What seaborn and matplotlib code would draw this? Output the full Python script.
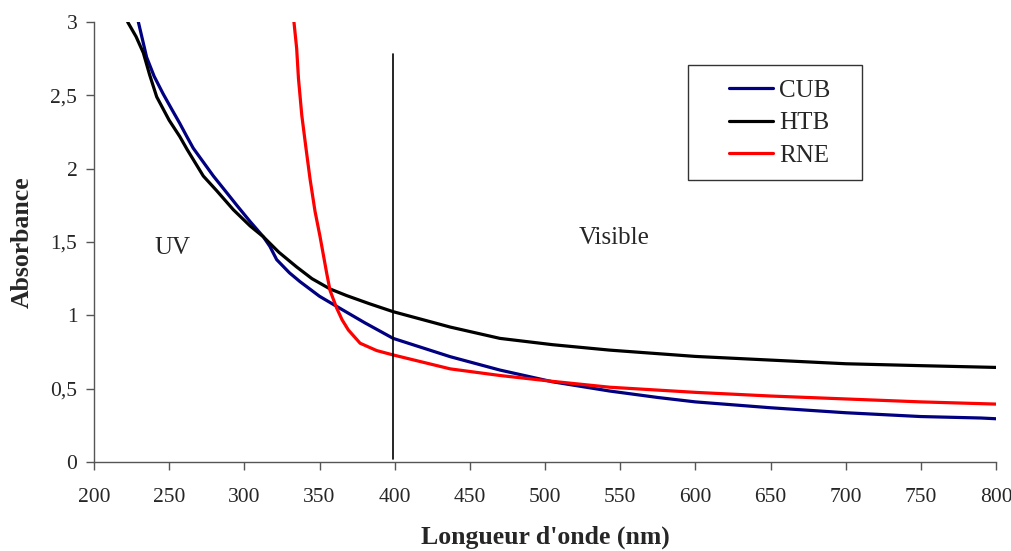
import numpy as np
import pandas as pd
import matplotlib
matplotlib.use("Agg")
import matplotlib.pyplot as plt
from matplotlib.ticker import FuncFormatter
from matplotlib.patches import Rectangle
import seaborn as sns

# Data (wavelength nm, absorbance)
cub_nm = [226, 229.5, 235, 240, 246, 252, 257, 261.7, 266, 279.4, 288, 295, 303.8, 312.6, 317, 321.5, 330, 337, 350, 363.6, 380, 399, 437, 470, 505, 543, 575, 600, 650, 700, 750, 790, 800]
cub_a = [3.3, 3.0, 2.76, 2.63, 2.51, 2.40, 2.31, 2.22, 2.14, 1.95, 1.84, 1.75, 1.64, 1.536, 1.47, 1.38, 1.29, 1.23, 1.13, 1.048, 0.95, 0.843, 0.718, 0.627, 0.547, 0.484, 0.44, 0.41, 0.37, 0.336, 0.31, 0.30, 0.295]

htb_nm = [219, 222.4, 228, 232.8, 237, 241.7, 250, 257, 262, 272.7, 281.6, 292.7, 303.8, 312.6, 323, 334.8, 345, 357, 368, 383, 399, 437, 470, 505, 543, 600, 650, 700, 750, 800]
htb_a = [3.3, 3.0, 2.90, 2.79, 2.64, 2.49, 2.33, 2.22, 2.13, 1.95, 1.85, 1.72, 1.61, 1.536, 1.43, 1.33, 1.25, 1.18, 1.135, 1.08, 1.025, 0.92, 0.843, 0.80, 0.763, 0.72, 0.695, 0.67, 0.657, 0.645]

rne_nm = [332.5, 333, 334.8, 336, 338.2, 341, 343.7, 347, 350.3, 354.8, 357, 361.4, 365, 369.2, 377, 388, 399, 437, 470, 505, 543, 600, 650, 700, 750, 800]
rne_a = [3.2, 3.0, 2.82, 2.615, 2.365, 2.14, 1.93, 1.71, 1.54, 1.286, 1.17, 1.05, 0.97, 0.90, 0.81, 0.76, 0.73, 0.635, 0.59, 0.55, 0.51, 0.475, 0.45, 0.43, 0.41, 0.395]

series_names = ["CUB", "HTB", "RNE"]
series_colors = ["#000080", "#000000", "#ff0000"]

x_ticks = [200, 250, 300, 350, 400, 450, 500, 550, 600, 650, 700, 750, 800]
y_ticks = [0, 0.5, 1, 1.5, 2, 2.5, 3]

df = pd.concat([
    pd.DataFrame({"nm": cub_nm, "A": cub_a, "s": "CUB"}),
    pd.DataFrame({"nm": htb_nm, "A": htb_a, "s": "HTB"}),
    pd.DataFrame({"nm": rne_nm, "A": rne_a, "s": "RNE"}),
])

sns.set_style("ticks")
plt.rcParams["font.family"] = ["Liberation Serif", "DejaVu Serif"]

fig = plt.figure(figsize=(10.12, 5.51), dpi=100)
ax = fig.add_axes([0.0929, 0.1615, 0.8913, 0.7985])

sns.lineplot(data=df, x="nm", y="A", hue="s", hue_order=series_names,
             palette=dict(zip(series_names, series_colors)), linewidth=2.3,
             sort=False, estimator=None, ax=ax)

ax.plot([399, 399], [0.02, 2.78], color="black", linewidth=1.2)

ax.set_xlim(200, 800)
ax.set_ylim(0, 3)
ax.set_xticks(x_ticks)
ax.set_yticks(y_ticks)
ax.yaxis.set_major_formatter(FuncFormatter(lambda v, p: ("%g" % v).replace(".", ",")))
ax.tick_params(axis="both", labelsize=15.5, direction="out", length=6, width=1,
               color="#555555")
ax.tick_params(axis="x", pad=13)
ax.tick_params(axis="y", pad=6)
for sp in ["top", "right"]:
    ax.spines[sp].set_visible(False)
for sp in ["left", "bottom"]:
    ax.spines[sp].set_color("#555555")
    ax.spines[sp].set_linewidth(1)

ax.set_xlabel("Longueur d'onde (nm)", fontsize=18.5, fontweight="bold", labelpad=13)
ax.set_ylabel("Absorbance", fontsize=18.5, fontweight="bold", labelpad=12)

ax.text(252.5, 1.46, "UV", fontsize=18, ha="center", va="center")
ax.text(546, 1.53, "Visible", fontsize=18, ha="center", va="center")

# legend frame (drawn separately to match the reference's wide padding)
ax.add_patch(Rectangle((0.6585, 0.641), 0.1929, 0.2613, transform=ax.transAxes,
                       fill=True, facecolor="white", edgecolor="#333333",
                       linewidth=1, zorder=4, clip_on=False))
leg = ax.legend(loc="center", bbox_to_anchor=(0.760, 0.770), frameon=False,
                fontsize=18, handlelength=1.75, borderpad=0, labelspacing=0.4,
                handletextpad=0.25)
leg.set_zorder(5)
for line in leg.get_lines():
    line.set_linewidth(2.3)

fig.savefig("out.png", dpi=100)
